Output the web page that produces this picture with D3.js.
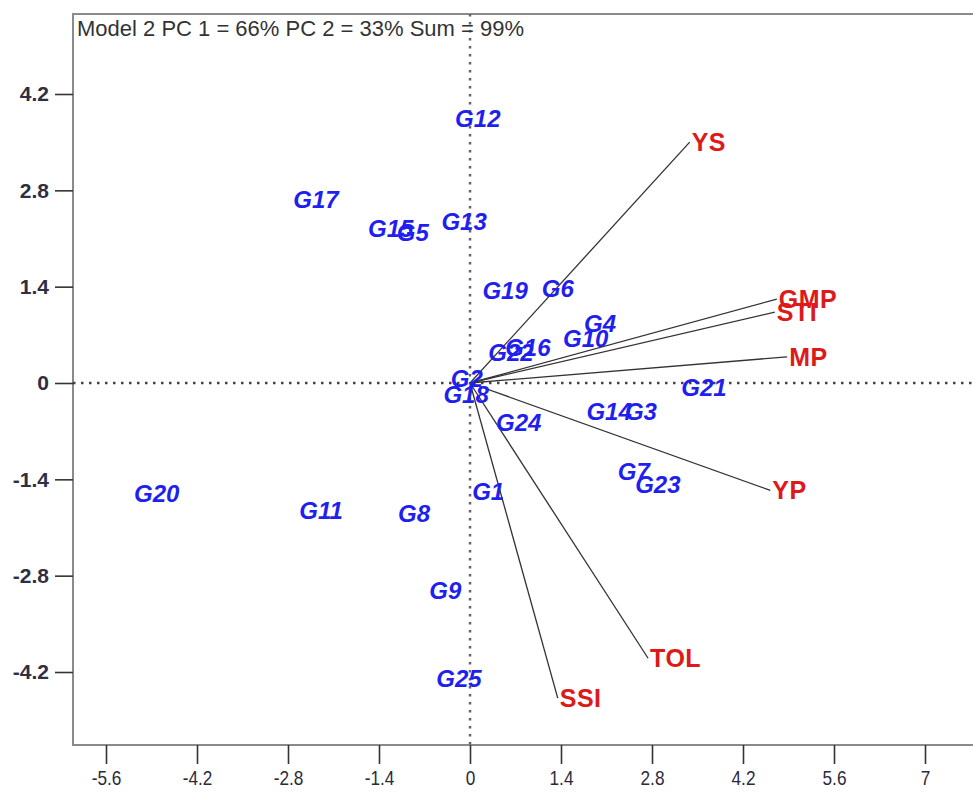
<!DOCTYPE html>
<html>
<head>
<meta charset="utf-8">
<script src="https://cdn.jsdelivr.net/npm/d3@7"></script>
<style>
  body { margin: 0; background: #fff; }
  svg { display: block; font-family: "Liberation Sans", Arial, sans-serif; }
</style>
</head>
<body>
<svg id="biplot" width="973" height="796"></svg>
<script>
// Genotype scores (PC1, PC2)
const genotypes = ["G1","G2","G3","G4","G5","G6","G7","G8","G9","G10","G11","G12","G13",
  "G14","G15","G16","G17","G18","G19","G20","G21","G22","G23","G24","G25"];
const genoPC1 = [0.28,-0.05,2.63,2.00,-0.88,1.35,2.52,-0.86,-0.38,1.78,-2.29,0.12,-0.09,
  2.14,-1.22,0.89,-2.37,-0.06,0.54,-4.82,3.60,0.63,2.89,0.75,-0.17];
const genoPC2 = [-1.58,0.07,-0.41,0.86,2.19,1.38,-1.29,-1.89,-3.01,0.64,-1.85,3.84,2.34,
  -0.41,2.25,0.52,2.66,-0.17,1.35,-1.61,-0.07,0.45,-1.48,-0.58,-4.29];

// Trait vectors (PC1, PC2)
const traits = ["YS","GMP","STI","MP","YP","TOL","SSI"];
const traitPC1 = [3.38,4.72,4.69,4.88,4.62,2.74,1.35];
const traitPC2 = [3.50,1.22,1.03,0.38,-1.56,-4.00,-4.58];

const xTicks = [-5.6,-4.2,-2.8,-1.4,0,1.4,2.8,4.2,5.6,7];
const yTicks = [-4.2,-2.8,-1.4,0,1.4,2.8,4.2];
const title = "Model 2 PC 1 = 66% PC 2 = 33% Sum = 99%";

const svg = d3.select("#biplot");
const frameL = 73, frameT = 14, frameB = 745, frameR = 975;

const x = d3.scaleLinear().domain([-5.6, 7]).range([106, 925]);
const y = d3.scaleLinear().domain([-4.2, 4.2]).range([672, 94]);

// frame
svg.append("rect")
  .attr("x", frameL).attr("y", frameT)
  .attr("width", frameR - frameL).attr("height", frameB - frameT)
  .attr("fill", "none").attr("stroke", "#8a8a8a").attr("stroke-width", 2);

// zero lines
svg.append("line")
  .attr("x1", x(0)).attr("x2", x(0)).attr("y1", frameT).attr("y2", frameB)
  .attr("stroke", "#666").attr("stroke-width", 2.5).attr("stroke-dasharray", "2.5,5.5");
svg.append("line")
  .attr("x1", frameL).attr("x2", frameR).attr("y1", y(0)).attr("y2", y(0))
  .attr("stroke", "#444").attr("stroke-width", 2.5).attr("stroke-dasharray", "2.5,5.5");

// axes
const fmt = d => String(d);
const gx = svg.append("g")
  .attr("transform", `translate(0,${frameB})`)
  .call(d3.axisBottom(x).tickValues(xTicks).tickFormat(fmt).tickSize(19).tickPadding(6));
const gy = svg.append("g")
  .attr("transform", `translate(${frameL},0)`)
  .call(d3.axisLeft(y).tickValues(yTicks).tickFormat(fmt).tickSize(18).tickPadding(6));

[gx, gy].forEach(g => {
  g.select(".domain").remove();
  g.selectAll(".tick line").attr("stroke", "#333").attr("stroke-width", 1.6);
});

// x labels: tall, narrow
gx.selectAll(".tick text")
  .attr("fill", "#2a2a3a")
  .attr("transform", "scale(0.82,1)")
  .style("font-size", "21px")
  .style("font-family", "'Liberation Sans', Arial, sans-serif");

gy.selectAll(".tick text")
  .attr("fill", "#2e2e44")
  .style("font-size", "21px")
  .style("font-weight", "bold")
  .style("font-family", "'Liberation Sans', Arial, sans-serif");

// title
svg.append("text")
  .attr("x", 77).attr("y", 36)
  .attr("fill", "#333")
  .style("font-size", "22px")
  .text(title);

// trait vectors
const tg = svg.append("g");
traits.forEach((t, i) => {
  tg.append("line")
    .attr("x1", x(0)).attr("y1", y(0))
    .attr("x2", x(traitPC1[i])).attr("y2", y(traitPC2[i]))
    .attr("stroke", "#333").attr("stroke-width", 1.3);
});
traits.forEach((t, i) => {
  tg.append("text")
    .attr("x", x(traitPC1[i]) + 2).attr("y", y(traitPC2[i]))
    .attr("dominant-baseline", "central")
    .attr("fill", "#dd1a1a")
    .style("font-size", "25px").style("font-weight", "bold")
    .style("letter-spacing", "0.5px")
    .text(t);
});

// genotype labels
svg.append("g").selectAll("text")
  .data(genotypes)
  .join("text")
  .attr("x", (d, i) => x(genoPC1[i]))
  .attr("y", (d, i) => y(genoPC2[i]))
  .attr("text-anchor", "middle")
  .attr("dominant-baseline", "central")
  .attr("fill", "#1f1fef")
  .style("font-size", "24px").style("font-weight", "bold").style("font-style", "italic")
  .text(d => d);
</script>
</body>
</html>
